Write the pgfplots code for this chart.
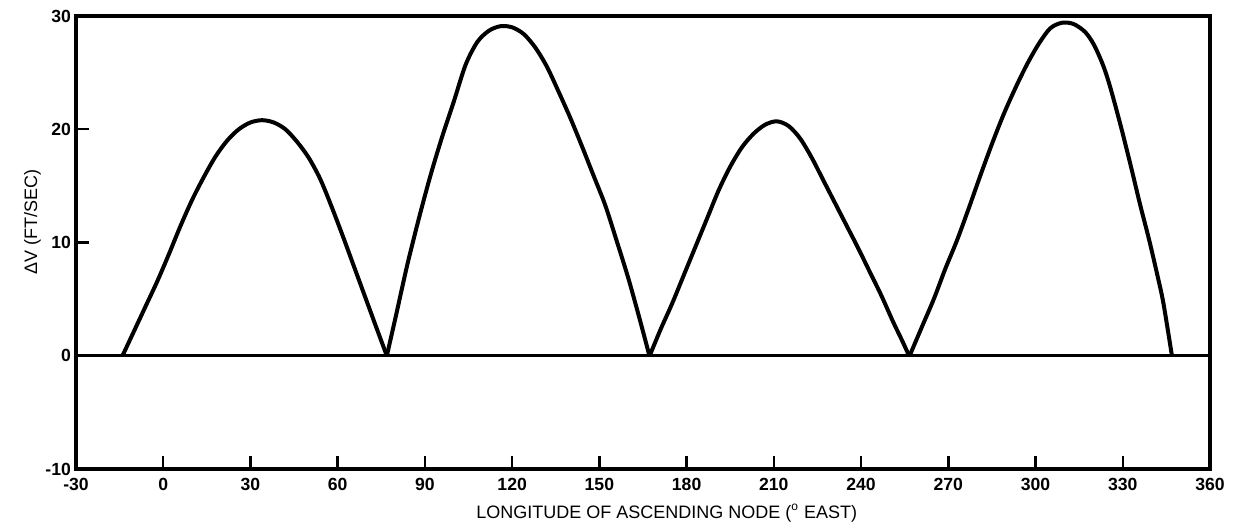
\documentclass[border=0pt]{standalone}
\usepackage{pgfplots}
\pgfplotsset{compat=1.18}
\usepackage{fontspec}
\setmainfont{Liberation Sans}
\begin{document}
\begin{tikzpicture}
\useasboundingbox (0,0) rectangle (617pt,261.5pt);
\begin{axis}[
  at={(38pt,27pt)}, anchor=south west,
  scale only axis,
  width=567pt, height=226.5pt,
  xmin=-30, xmax=360, ymin=-10, ymax=30,
  xtick={-30,0,30,...,360},
  ytick={-10,0,10,20,30},
  xtick pos=bottom, ytick pos=left,
  tick align=inside,
  major tick length=6.5pt,
  tick style={line width=1.2pt, black},
  axis line style={line width=1.8pt},
  ticklabel style={font=\fontsize{8.8}{10}\selectfont\bfseries},
  /pgf/number format/assume math mode=true,
  xticklabel style={yshift=-1pt},
  yticklabel style={xshift=1pt},
  xlabel={LONGITUDE OF ASCENDING NODE (\textsuperscript{o} EAST)},
  ylabel={ΔV (FT/SEC)},
  label style={font=\fontsize{9}{10}\selectfont},
  xlabel style={at={(rel axis cs:0.521,0)}, anchor=north, yshift=-14pt},
  ylabel style={at={(rel axis cs:0,0.545)}, anchor=south, xshift=0pt, yshift=14pt},
  clip=false,
]
\addplot[black, line width=1.5pt] coordinates {(-30,0) (360,0)};
\addplot[black, line width=2pt, smooth, tension=0.5] coordinates {
(-14,0) (-10,2.2) (-6,4.4) (-2,6.6) (2,9.0) (6,11.5) (10,13.8) (14,15.8) (18,17.6)
(22,19.0) (26,20.0) (30,20.6) (34,20.8) (38,20.6) (42,20.0) (46,18.9) (50,17.5)
(54,15.6) (58,13.1) (62,10.4) (66,7.6) (70,4.8) (74,2.0) (76.9,0)};
\addplot[black, line width=2pt, smooth, tension=0.5] coordinates {
(76.9,0) (80,3.5) (84,8.1) (88,12.2) (92,16.0) (96,19.4) (100,22.5) (104,25.7)
(108,27.7) (112,28.7) (116,29.1) (120,29.0) (124,28.4) (128,27.2) (132,25.5)
(136,23.3) (140,21.0) (144,18.5) (148,15.9) (152,13.3) (156,10.1) (160,6.8) (164,3.1) (167.2,0)};
\addplot[black, line width=2pt, smooth, tension=0.5] coordinates {
(167.3,0) (171,2.3) (175,4.6) (179,7.1) (183,9.6) (187,12.1) (191,14.6) (195,16.7)
(199,18.4) (203,19.6) (207,20.4) (211,20.7) (215,20.3) (219,19.2) (223,17.5)
(227,15.5) (231,13.5) (235,11.5) (239,9.5) (243,7.4) (247,5.3) (251,3.0) (254,1.4) (256.5,0)};
\addplot[black, line width=2pt, smooth, tension=0.5] coordinates {
(256.7,0) (261,2.6) (265,5.0) (269,7.7) (273,10.2) (277,13.0) (281,15.9) (285,18.7)
(289,21.3) (293,23.6) (297,25.7) (301,27.5) (305,28.9) (309,29.4) (313,29.3)
(317,28.6) (320,27.5) (323,25.8) (325,24.3) (327,22.5) (330,19.6) (333,16.5)
(336,13.3) (339,10.3) (342,7.0) (344,4.6) (346.9,0)};
\end{axis}
\end{tikzpicture}
\end{document}
